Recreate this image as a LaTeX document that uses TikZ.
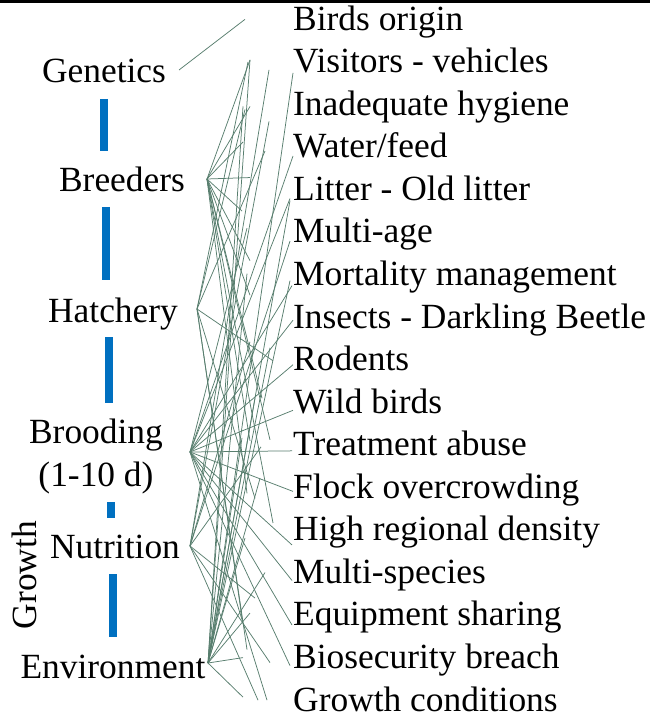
\documentclass[tikz,border=0pt]{standalone}
\usepackage{fontspec}
\setmainfont{Liberation Serif}
\usepackage{xcolor}
\definecolor{webgreen}{RGB}{88,126,110}
\definecolor{barblue}{RGB}{0,112,192}

\begin{document}
\begin{tikzpicture}[x=1pt,y=-1pt,
  lbl/.style={inner sep=0pt,font=\fontsize{35.4}{43}\selectfont},
  stg/.style={lbl,anchor=base,align=center},
  risk/.style={lbl,anchor=base west,text height=22.7pt,text depth=5pt},
  link/.style={barblue,line width=8pt},
  web/.style={webgreen,line width=0.75pt}]
\useasboundingbox (0,0) rectangle (650,719);
\draw[line width=2.6pt] (0,1.5) -- (650,1.5);
% production stages
\node[stg] (T1) at (104,83) {Genetics};
\node[stg] (T2) at (122,192) {Breeders};
\node[stg] (T3) at (113,322) {Hatchery};
\node[stg] (T4) at (96,486) {Brooding\\(1-10 d)};
\node[stg] (T5) at (115,558) {Nutrition};
\node[stg] (T6) at (113,678) {Environment};
\node[lbl,rotate=90,anchor=base] (T0) at (36,575) {Growth};
\foreach \xa/\ya/\yb in {104/99/151,106/207/280,109/337/403,111/502/518,113/574/637}
  \draw[link] (\xa,\ya) -- (\xa,\yb);
% hubs where the lines leave each stage
\coordinate (P1) at (179,70);
\coordinate (P2) at (207,179);
\coordinate (P3) at (197,309);
\coordinate (P4) at (190,452);
\coordinate (P5) at (190,546);
\coordinate (P6) at (208,663);
% risk factors
\foreach \t [count=\i] in {Birds origin,Visitors - vehicles,Inadequate hygiene,{Water/feed},
  Litter - Old litter,Multi-age,Mortality management,Insects - Darkling Beetle,Rodents,
  Wild birds,Treatment abuse,Flock overcrowding,High regional density,Multi-species,
  Equipment sharing,Biosecurity breach,Growth conditions}
  \node[risk] (R\i) at (293,{30.2+42.55*(\i-1)}) {\t};
% stage -- risk links
\foreach \s/\r/\d/\e in {1/1/48/-2,
  2/2/43/-4,2/3/43/0,2/4/50/-7,2/5/43/-14,2/6/51/-23,2/7/43/-16,2/8/43/-24,
  2/10/31/-6,2/11/43/-6,2/11/23/-7,2/12/46/4,2/13/20/-9,
  3/2/45/-2,3/3/48/3,3/4/28/2,3/9/20/-1,3/12/38/9,3/15/51/1,3/16/46/-10,
  4/4/0/7,4/5/3/7,4/6/46/-6,4/7/1/9,4/8/0/1,4/9/0/3,4/10/0/6,4/11/1/4,4/12/0/2,
  4/13/1/13,4/14/1/6,4/15/1/8,4/16/3/6,4/17/26/-2,
  5/2/24/6,5/3/24/15,5/6/3/7,5/9/43/-20,5/11/32/0,5/15/38/-19,5/16/23/3,5/17/35/-2,
  6/2/43/-4,6/2/0/9,6/3/50/0,6/5/3/9,6/7/3/4,6/7/46/-3,6/9/23/-14,6/10/38/-6,
  6/11/51/-9,6/12/33/-11,6/13/48/6,6/14/28/-2,6/15/43/-4,6/16/50/-2,6/17/50/-5}
  \draw[web] (P\s) -- ([shift={(-\d,\e)}]R\r.west);
\end{tikzpicture}
\end{document}
